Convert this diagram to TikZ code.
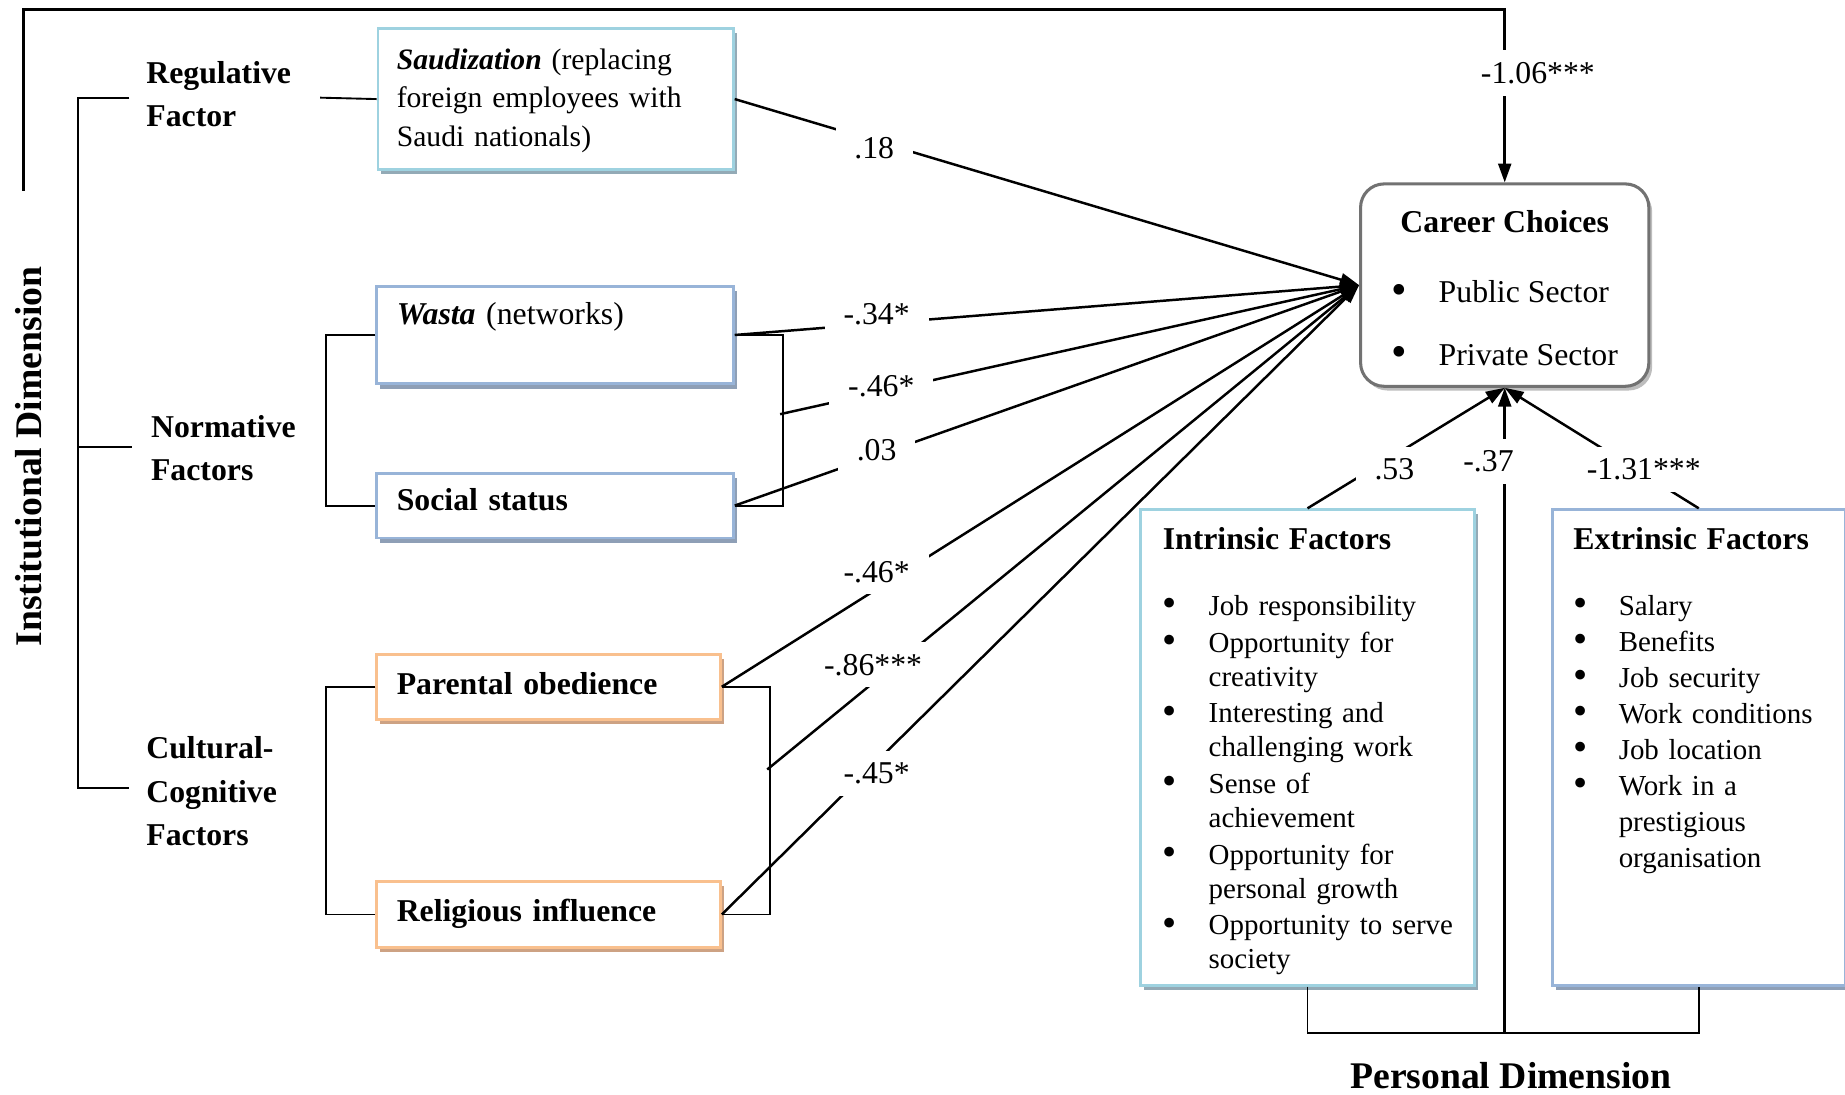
\documentclass[tikz,border=0pt]{standalone}
\usepackage{fontspec}
\setmainfont{Liberation Serif}
\usetikzlibrary{arrows.meta,shadows}

% border and shadow colours of the boxes
\definecolor{aqualine}{HTML}{9ED2E0}
\definecolor{aquashadow}{HTML}{93AAB6}
\definecolor{blueline}{HTML}{98B4D8}
\definecolor{blueshadow}{HTML}{8E9FB6}
\definecolor{orangeline}{HTML}{F9C08E}
\definecolor{orangeshadow}{HTML}{CDA283}
\definecolor{greyline}{HTML}{727272}
\definecolor{greyshadow}{HTML}{BDBDBD}

% font sizes
\newcommand\fhead{\fontsize{16}{19}\selectfont\bfseries}
\newcommand\fmain{\fontsize{13.5}{15.5}\selectfont}
\newcommand\fgroup{\fontsize{13.5}{18.3}\selectfont\bfseries}
\newcommand\fsaud{\fontsize{12.6}{16.25}\selectfont}
\newcommand\flistA{\fontsize{12.3}{14.4}\selectfont}
\newcommand\flistB{\fontsize{12.3}{15.3}\selectfont}
\newcommand\blt{\raisebox{-0.1ex}{\scalebox{1.4}{\textbullet}}}

\tikzset{
  factorbox/.style={draw=#1line, line width=1.2pt, fill=white, anchor=north west,
    inner ysep=0pt, align=left,
    drop shadow={shadow xshift=1.4pt, shadow yshift=-2pt, fill=#1shadow, opacity=1}},
  conn/.style={line width=1.05pt, -{Triangle[length=8pt,width=5.5pt]}},
  bracket/.style={line width=0.8pt},
  coef/.style={font=\fmain, fill=white, inner xsep=8pt, inner ysep=5pt},
  dimlabel/.style={font=\fhead},
  grouplabel/.style={font=\fgroup, anchor=base west, inner sep=0pt},
}

\begin{document}
\begin{tikzpicture}[x=0.5pt, y=-0.5pt]
\useasboundingbox (0,0) rectangle (1568,930);

% ---------- institutional factors ----------
\node[factorbox=aqua, minimum width=151pt, text width=135pt, inner xsep=8pt,
      text height=17.5pt, text depth=42.5pt, font=\fsaud] (saud) at (320,23)
  {\textbf{\textit{Saudization}} (replacing\\foreign employees with\\Saudi nationals)};
\node[factorbox=blue, minimum width=151.5pt, text width=134.5pt, inner xsep=8.5pt,
      text height=16.5pt, text depth=25pt, font=\fmain] (wasta) at (319,242)
  {\textbf{\textit{Wasta}} (networks)};
\node[factorbox=blue, minimum width=151.5pt, text width=134.5pt, inner xsep=8.5pt,
      text height=16pt, text depth=11.5pt, font=\fmain\bfseries] (social) at (319,401)
  {Social status};
\node[factorbox=orange, minimum width=146pt, text width=129pt, inner xsep=8.5pt,
      text height=17pt, text depth=10.5pt, font=\fmain\bfseries] (parent) at (319,555)
  {Parental obedience};
\node[factorbox=orange, minimum width=146pt, text width=129pt, inner xsep=8.5pt,
      text height=17pt, text depth=11pt, font=\fmain\bfseries] (relig) at (319,748)
  {Religious influence};

% ---------- outcome ----------
\node[draw=greyline, line width=1.3pt, rounded corners=10pt, fill=white,
      drop shadow={shadow xshift=1.4pt, shadow yshift=-1.8pt, fill=greyshadow, opacity=1},
      anchor=north west, minimum width=122.5pt, inner sep=0pt,
      text height=20.5pt, text depth=65.5pt, font=\fmain] (career) at (1155,155)
  {\begin{tabular}[t]{@{}p{20pt}@{}l@{}}
   \multicolumn{2}{@{}c@{}}{\bfseries Career Choices}\\[14.5pt]
   \blt & Public Sector\\[11pt]
   \blt & Private Sector
   \end{tabular}};

% ---------- personal factors ----------
\node[factorbox=aqua, minimum width=142pt, text width=123pt, inner xsep=9.5pt,
      text height=17pt, text depth=185pt, font=\flistA] (intr) at (968,432)
  {\begin{tabular}[t]{@{}p{19.5pt}@{}l@{}}
   \multicolumn{2}{@{}l@{}}{\fmain\bfseries Intrinsic Factors}\\[13.6pt]
   \blt & Job responsibility\\[1.2pt]
   \blt & Opportunity for\\
        & creativity\\[1.2pt]
   \blt & Interesting and\\
        & challenging work\\[1.2pt]
   \blt & Sense of\\
        & achievement\\[1.2pt]
   \blt & Opportunity for\\
        & personal growth\\[1.2pt]
   \blt & Opportunity to serve\\
        & society
   \end{tabular}};
\node[factorbox=blue, minimum width=124.5pt, text width=106.5pt, inner xsep=9pt,
      text height=17pt, text depth=185pt, font=\flistB] (extr) at (1318,432)
  {\begin{tabular}[t]{@{}p{19.25pt}@{}l@{}}
   \multicolumn{2}{@{}l@{}}{\fmain\bfseries Extrinsic Factors}\\[12.7pt]
   \blt & Salary\\
   \blt & Benefits\\
   \blt & Job security\\
   \blt & Work conditions\\
   \blt & Job location\\
   \blt & Work in a\\
        & prestigious\\
        & organisation
   \end{tabular}};

% ---------- group headings ----------
\node[grouplabel] (regul) at (124,71)
  {\begin{tabular}[t]{@{}l@{}}Regulative\\Factor\end{tabular}};
\node[grouplabel] (norm) at (128,372)
  {\begin{tabular}[t]{@{}l@{}}Normative\\Factors\end{tabular}};
\node[grouplabel] (cult) at (124,645)
  {\begin{tabular}[t]{@{}l@{}}Cultural-\\Cognitive\\Factors\end{tabular}};

\node[dimlabel, rotate=90] (inst) at (24,388) {Institutional Dimension};
\node[dimlabel] (pers) at (1284,914) {Personal Dimension};

% ---------- brackets ----------
\coordinate (brtop) at (66,83);
\coordinate (brmid) at (66,380);
\coordinate (brbot) at (66,670);
\coordinate (regtick) at (110,83);
\coordinate (normtick) at (112,380);
\coordinate (culttick) at (110,670);
\coordinate (saudlead) at (272,83);
\draw[bracket] (regtick) -- (brtop) -- (brbot) -- (culttick);
\draw[bracket] (brmid) -- (normtick);
\draw[bracket] (saudlead) -- (saud.west);

\draw[bracket] (wasta.west) -- ++(-42,0) |- (social.west);
\draw[bracket] (wasta.east) -- ++(41,0) |- (social.east);
\draw[bracket] (parent.west) -- ++(-42,0) |- (relig.west);
\draw[bracket] (parent.east) -- ++(41,0) |- (relig.east);

\coordinate (nbr) at (663,352);
\coordinate (cbr) at (652,654);

% ---------- paths into career choices ----------
\foreach \src in {saud.east, wasta.east, nbr, social.east, parent.east, cbr, relig.east}
  \draw[conn] (\src) -- (career.west);

\coordinate (frameend) at (20,162);
\draw[conn] (frameend) -- (20,8) -| (career.north);

\coordinate (pdim) at (career.south |- 0,878);
\draw[bracket] (intr.south) -- (intr.south |- pdim) -| (extr.south);
\draw[conn] (pdim) -- (career.south);
\draw[conn] (intr.north) -- (career.south);
\draw[conn] (extr.north) -- (career.south);

% ---------- path coefficients ----------
\node[coef] (k1) at (743,126) {.18};
\node[coef] (k2) at (745,267) {-.34*};
\node[coef] (k3) at (749,328) {-.46*};
\node[coef] (k4) at (745,383) {.03};
\node[coef] (k5) at (745,486) {-.46*};
\node[coef] (k6) at (742,565) {-.86***};
\node[coef] (k7) at (745,657) {-.45*};
\node[coef] (k8) at (1307,62) {-1.06***};
\node[coef] (k9) at (1185,399) {.53};
\node[coef] (k10) at (1265,392) {-.37};
\node[coef] (k11) at (1397,399) {-1.31***};
\end{tikzpicture}
\end{document}
